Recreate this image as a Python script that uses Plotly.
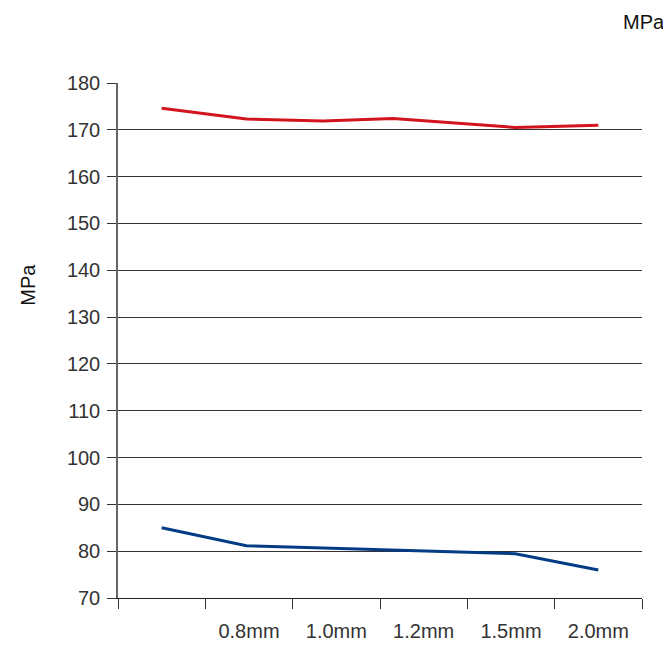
import plotly.graph_objects as go

# Data
x_pos = [0.5, 1.47, 2.35, 3.15, 4.55, 5.5]
red_vals = [174.6, 172.3, 171.9, 172.4, 170.5, 171.0]
blue_vals = [85.0, 81.15, 80.7, 80.2, 79.45, 76.0]
x_label_pos = [1.5, 2.5, 3.5, 4.5, 5.5]
x_labels = ["0.8mm", "1.0mm", "1.2mm", "1.5mm", "2.0mm"]
y_ticks = [70, 80, 90, 100, 110, 120, 130, 140, 150, 160, 170, 180]

FONT = "Liberation Sans"

fig = go.Figure()
fig.add_trace(go.Scatter(x=x_pos, y=red_vals, mode="lines",
                         line=dict(color="#d2141e", width=3), showlegend=False))
fig.add_trace(go.Scatter(x=x_pos, y=blue_vals, mode="lines",
                         line=dict(color="#033c84", width=3), showlegend=False))

fig.update_layout(
    width=671, height=645,
    margin=dict(l=110, r=37, t=75, b=55),
    paper_bgcolor="white", plot_bgcolor="white",
    font=dict(family=FONT, size=20, color="#333333"),
    xaxis=dict(
        range=[0, 6], showgrid=False, zeroline=False, automargin=False,
        showline=True, linecolor="#222222", linewidth=1.2,
        tickmode="array", tickvals=x_label_pos, ticktext=x_labels,
        ticks="", ticklabelstandoff=15,
        tickfont=dict(family=FONT, size=20, color="#333333"),
        minor=dict(tick0=0, dtick=1, ticks="outside", ticklen=10,
                   tickwidth=1.2, tickcolor="#333333", showgrid=False),
    ),
    yaxis=dict(
        range=[70, 180], tickmode="array", tickvals=y_ticks, automargin=False,
        showgrid=True, gridcolor="#333333", gridwidth=1,
        zeroline=False, showline=True, linecolor="#666666", linewidth=1.5,
        ticks="outside", ticklen=9, tickwidth=1.2, tickcolor="#333333",
        ticklabelstandoff=3,
        tickfont=dict(family=FONT, size=20, color="#333333"),
    ),
    annotations=[
        dict(text="MPa", xref="paper", yref="paper", x=1.047, y=1.118,
             xanchor="right", yanchor="middle", showarrow=False,
             font=dict(family=FONT, size=20, color="#111111")),
        dict(text="MPa", xref="paper", yref="paper", x=-0.172, y=0.608,
             xanchor="center", yanchor="middle", textangle=-90, showarrow=False,
             font=dict(family=FONT, size=20, color="#111111")),
    ],
)

fig.write_html("out.html")
